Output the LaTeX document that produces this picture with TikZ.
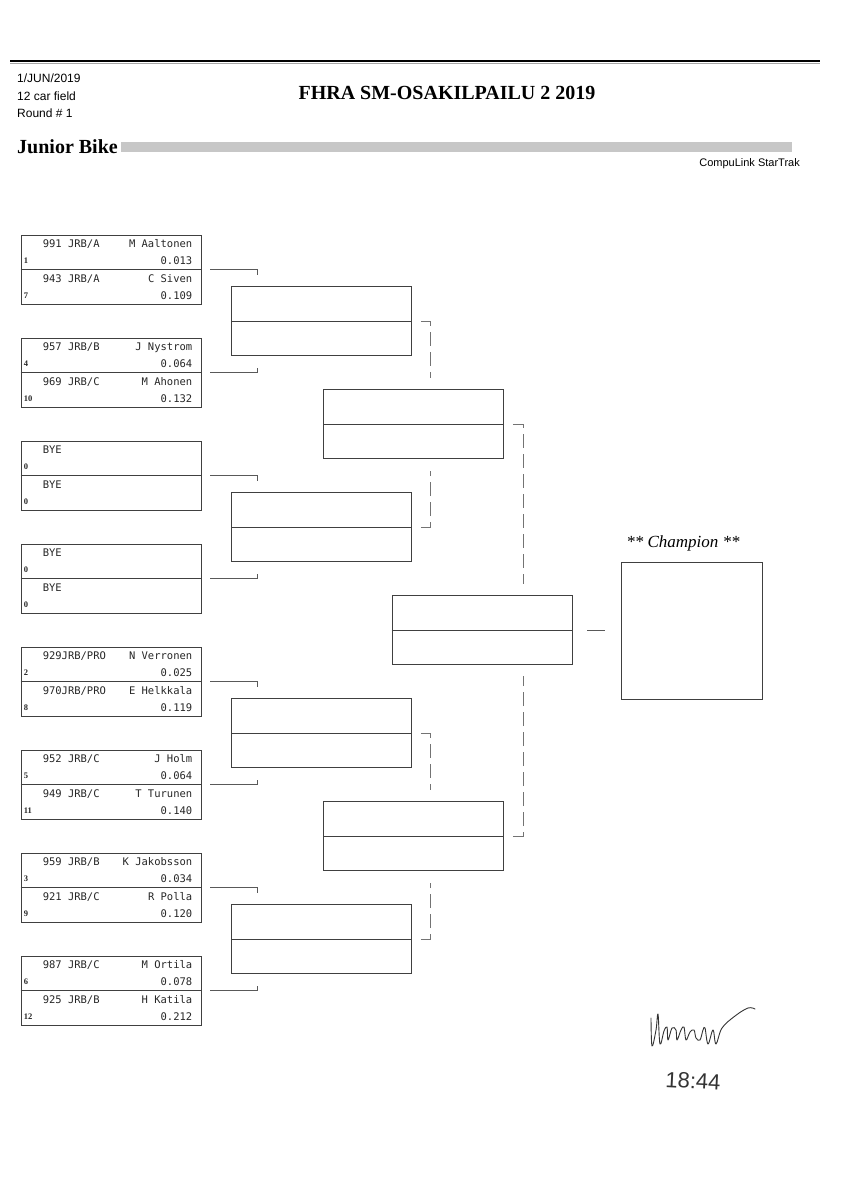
\documentclass[tikz,border=0pt]{standalone}
\usepackage{fontspec}
\setmainfont{Liberation Serif}
\setsansfont{Liberation Sans}
\newfontfamily\pitfont{DejaVu Sans Mono}
\usetikzlibrary{calc}

\tikzset{
	heat/.style={draw=black!75, line width=0.9pt, minimum width=180pt, minimum height=69pt, inner sep=0pt},
	pitline/.style={draw=black!75, line width=0.9pt},
	link/.style={draw=black!65, line width=0.8pt},
	dashlink/.style={draw=black!55, line width=0.8pt, dash pattern=on 14pt off 6pt},
	entrytext/.style={font=\pitfont\fontsize{10.5}{12}\selectfont, text=black!85, inner sep=0pt},
	seedtext/.style={font=\fontsize{8.5}{9}\selectfont\bfseries, text=black!85, inner sep=0pt},
	headtext/.style={font=\sffamily\fontsize{12}{14}\selectfont, inner sep=0pt, anchor=west},
	ink/.style={draw=black!80, line width=0.9pt, line cap=round, line join=round},
}
\def\heat(#1)(#2,#3){\node[heat] (#1) at (#2,#3) {}; \draw[pitline] (#1.west) -- (#1.east);}
\def\racer(#1-#2:#3)(#4:#5:#6:#7){%
	\node[entrytext, anchor=base west] (#1-#2-car) at ($(#1.north west)+(22,#3+13)$) {#4};
	\node[entrytext, anchor=base east] (#1-#2-drv) at ($(#1.north east)+(-9,#3+13)$) {#5};
	\node[entrytext, anchor=base east] (#1-#2-et) at ($(#1.north east)+(-9,#3+30)$) {#6};
	\node[seedtext, anchor=base west] (#1-#2-seed) at ($(#1.north west)+(3,#3+29)$) {#7};}

\begin{document}
\begin{tikzpicture}[x=1pt, y=-1pt]
		%%%%% START %%%%%
		\useasboundingbox (0,0) rectangle (848,1200);
		
		\draw[line width=2pt] (10,61) -- (820,61);
		\draw[line width=1pt, black!35] (10,63.5) -- (820,63.5);
		
		\node[headtext] (date) at (17,78) {1/JUN/2019};
		\node[headtext] (field) at (17,96) {12 car field};
		\node[headtext] (round) at (17,113) {Round \# 1};
		\node[font=\bfseries\fontsize{20}{24}\selectfont, inner sep=0pt] (title) at (447,93) {FHRA SM-OSAKILPAILU 2 2019};
		
		\node[font=\bfseries\fontsize{20}{24}\selectfont, inner sep=0pt, anchor=base west] (class) at (17,153) {Junior Bike};
		\fill[black!22] (121,142) rectangle (792,152);
		\node[font=\sffamily\fontsize{11}{13}\selectfont, inner sep=0pt, anchor=east] (brand) at (800,164) {CompuLink StarTrak};
		
		% first round
		\heat(q1)(111,269.5)
		\racer(q1-a:0)(991 JRB/A:M Aaltonen:0.013:1)
		\racer(q1-b:34.5)(943 JRB/A:C Siven:0.109:7)
		\heat(q2)(111,372.5)
		\racer(q2-a:0)(957 JRB/B:J Nystrom:0.064:4)
		\racer(q2-b:34.5)(969 JRB/C:M Ahonen:0.132:10)
		\heat(q3)(111,475.5)
		\racer(q3-a:0)(BYE:::0)
		\racer(q3-b:34.5)(BYE:::0)
		\heat(q4)(111,578.5)
		\racer(q4-a:0)(BYE:::0)
		\racer(q4-b:34.5)(BYE:::0)
		\heat(q5)(111,681.5)
		\racer(q5-a:0)(929JRB/PRO:N Verronen:0.025:2)
		\racer(q5-b:34.5)(970JRB/PRO:E Helkkala:0.119:8)
		\heat(q6)(111,784.5)
		\racer(q6-a:0)(952 JRB/C:J Holm:0.064:5)
		\racer(q6-b:34.5)(949 JRB/C:T Turunen:0.140:11)
		\heat(q7)(111,887.5)
		\racer(q7-a:0)(959 JRB/B:K Jakobsson:0.034:3)
		\racer(q7-b:34.5)(921 JRB/C:R Polla:0.120:9)
		\heat(q8)(111,990.5)
		\racer(q8-a:0)(987 JRB/C:M Ortila:0.078:6)
		\racer(q8-b:34.5)(925 JRB/B:H Katila:0.212:12)
		
		\draw[link] ($(q1.east)+(9,0)$) -- ++(47,0) -- ++(0,5);
		\draw[link] ($(q2.east)+(9,0)$) -- ++(47,0) -- ++(0,-5);
		\draw[link] ($(q3.east)+(9,0)$) -- ++(47,0) -- ++(0,5);
		\draw[link] ($(q4.east)+(9,0)$) -- ++(47,0) -- ++(0,-5);
		\draw[link] ($(q5.east)+(9,0)$) -- ++(47,0) -- ++(0,5);
		\draw[link] ($(q6.east)+(9,0)$) -- ++(47,0) -- ++(0,-5);
		\draw[link] ($(q7.east)+(9,0)$) -- ++(47,0) -- ++(0,5);
		\draw[link] ($(q8.east)+(9,0)$) -- ++(47,0) -- ++(0,-5);
		
		% second round
		\heat(s1)(321.5,321)
		\heat(s2)(321.5,527)
		\heat(s3)(321.5,733)
		\heat(s4)(321.5,939)
		
		\draw[dashlink] ($(s1.east)+(9,0)$) -- ++(9,0) -- ++(0,56.5);
		\draw[dashlink] ($(s2.east)+(9,0)$) -- ++(9,0) -- ++(0,-56.5);
		\draw[dashlink] ($(s3.east)+(9,0)$) -- ++(9,0) -- ++(0,56.5);
		\draw[dashlink] ($(s4.east)+(9,0)$) -- ++(9,0) -- ++(0,-56.5);
		
		% semis
		\heat(t1)(413.5,424)
		\heat(t2)(413.5,836)
		
		\draw[dashlink] ($(t1.east)+(9,0)$) -- ++(10,0) -- ++(0,160);
		\draw[dashlink] ($(t2.east)+(9,0)$) -- ++(10,0) -- ++(0,-160);
		
		% final
		\heat(fin)(482,630)
		\draw[link] ($(fin.east)+(15,0)$) -- ++(18,0);
		
		\node[draw=black!75, line width=0.9pt, minimum width=141pt, minimum height=137pt, inner sep=0pt] (champ) at (691.5,630.5) {};
		\node[font=\itshape\fontsize{17}{20}\selectfont, inner sep=0pt] (champtitle) at (683,543) {** Champion **};
		
		% signature and time
		\draw[ink] plot[smooth, tension=0.6] coordinates {(651,1018) (652,1046) (656,1030) (658,1014) (660,1044) (664,1031) (667,1027) (668,1040) (672,1028) (676,1030) (677,1040) (681,1030) (684,1027) (686,1040) (690,1032) (694,1030) (696,1038) (700,1040) (703,1030) (705,1028) (708,1044) (713,1030) (716,1044) (722,1028) (735,1016) (748,1008) (755,1009)};
		\node[font=\sffamily\fontsize{22}{24}\selectfont, text=black!80, inner sep=0pt, rotate=-3] (clock) at (693,1081) {18:44};
		
		%%%%% END %%%%%
	\end{tikzpicture}
\end{document}
